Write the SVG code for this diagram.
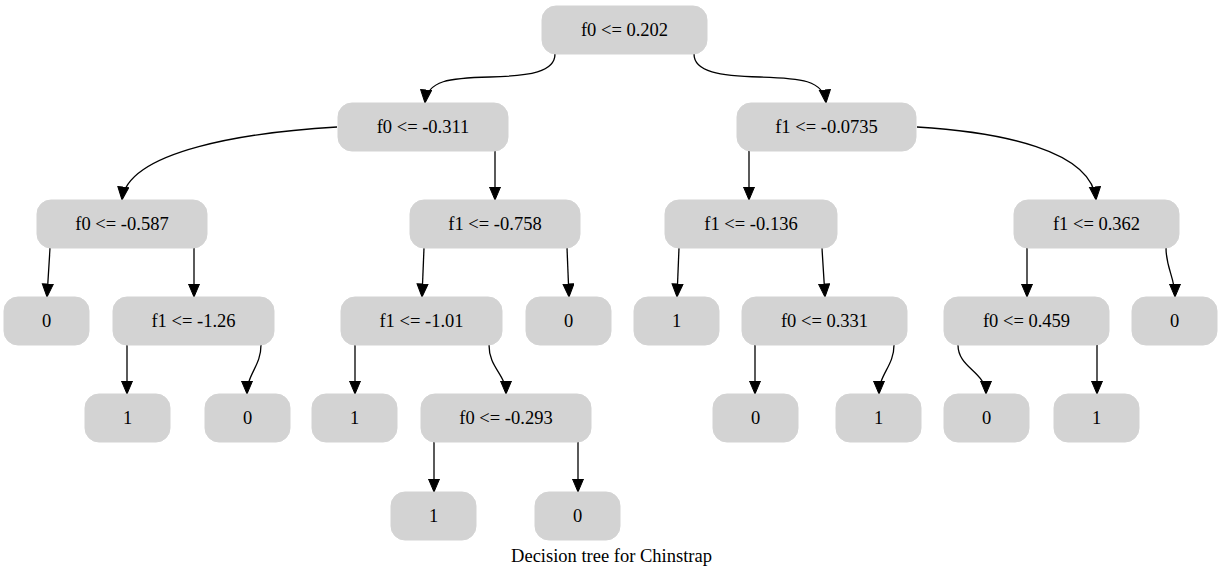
<svg xmlns="http://www.w3.org/2000/svg" width="1223" height="577" viewBox="0 0 1223 577">
<defs>
<style>
.n rect{fill:#d3d3d3;stroke:#d3d3d3;stroke-width:1}
.n text{font-size:18.5px;text-anchor:middle;fill:#000}
.e path{fill:none;stroke:#000;stroke-width:1.3;marker-end:url(#ah)}
.t{font-size:18.5px;text-anchor:middle;fill:#000}
</style>
<marker id="ah" markerUnits="userSpaceOnUse" markerWidth="16" markerHeight="14" refX="13.5" refY="6" orient="auto" viewBox="0 0 16 14">
<polygon points="0.5,0.5 13.5,6 0.5,11.5" fill="#000" stroke="#000" stroke-width="1"/>
</marker>
</defs>
<rect width="1223" height="577" fill="#fff"/>
<g class="e" id="edges">
<path d="M555,54 C555,72 530,76 490,77 C450,78 427,80 425,103"/>
<path d="M694,54 C694,72 720,76 760,77 C800,78 824,80 826,103"/>
<path d="M337,127 C250,132 127,150 122,200"/>
<path d="M495,151 L495,200"/>
<path d="M749,151 L749,200"/>
<path d="M917,127 C1000,132 1092,150 1096,200"/>
<path d="M50,248 L47,297"/>
<path d="M194,248 L194,297"/>
<path d="M424,248 L422,297"/>
<path d="M567,248 L569,297"/>
<path d="M679,248 L677,297"/>
<path d="M822,248 L825,297"/>
<path d="M1027,248 L1027,297"/>
<path d="M1166,248 C1166,268 1175,278 1175,297"/>
<path d="M127,345 L127,394"/>
<path d="M261,345 C261,366 247,374 247,394"/>
<path d="M355,345 L355,394"/>
<path d="M489,345 C489,368 506,374 506,394"/>
<path d="M755,345 L755,394"/>
<path d="M894,345 C894,366 879,374 879,394"/>
<path d="M958,345 C958,368 986,372 986,394"/>
<path d="M1097,345 L1097,394"/>
<path d="M434,442 L434,492"/>
<path d="M578,442 L578,492"/>
</g>
<g font-family="'Liberation Serif', 'Times New Roman', Times, serif">
<g class="n" id="n0"><rect x="542" y="6" width="165" height="48" rx="14"/><text x="624.5" y="36">f0 &lt;= 0.202</text></g>
<g class="n" id="n1"><rect x="338" y="103" width="170" height="48" rx="14"/><text x="423" y="133">f0 &lt;= -0.311</text></g>
<g class="n" id="n2"><rect x="737" y="103" width="179" height="48" rx="14"/><text x="826.5" y="133">f1 &lt;= -0.0735</text></g>
<g class="n" id="n3"><rect x="37" y="200" width="170" height="48" rx="14"/><text x="122" y="230">f0 &lt;= -0.587</text></g>
<g class="n" id="n4"><rect x="410" y="200" width="170" height="48" rx="14"/><text x="495" y="230">f1 &lt;= -0.758</text></g>
<g class="n" id="n5"><rect x="665" y="200" width="172" height="48" rx="14"/><text x="751" y="230">f1 &lt;= -0.136</text></g>
<g class="n" id="n6"><rect x="1014" y="200" width="165" height="48" rx="14"/><text x="1096.5" y="230">f1 &lt;= 0.362</text></g>
<g class="n" id="n7"><rect x="4" y="297" width="85" height="48" rx="14"/><text x="46.5" y="327">0</text></g>
<g class="n" id="n8"><rect x="113" y="297" width="161" height="48" rx="14"/><text x="193.5" y="327">f1 &lt;= -1.26</text></g>
<g class="n" id="n9"><rect x="341" y="297" width="161" height="48" rx="14"/><text x="421.5" y="327">f1 &lt;= -1.01</text></g>
<g class="n" id="n10"><rect x="526" y="297" width="85" height="48" rx="14"/><text x="568.5" y="327">0</text></g>
<g class="n" id="n11"><rect x="634" y="297" width="85" height="48" rx="14"/><text x="676.5" y="327">1</text></g>
<g class="n" id="n12"><rect x="742" y="297" width="165" height="48" rx="14"/><text x="824.5" y="327">f0 &lt;= 0.331</text></g>
<g class="n" id="n13"><rect x="944" y="297" width="165" height="48" rx="14"/><text x="1026.5" y="327">f0 &lt;= 0.459</text></g>
<g class="n" id="n14"><rect x="1132" y="297" width="85" height="48" rx="14"/><text x="1174.5" y="327">0</text></g>
<g class="n" id="n15"><rect x="85" y="394" width="85" height="48" rx="14"/><text x="127.5" y="424">1</text></g>
<g class="n" id="n16"><rect x="205" y="394" width="85" height="48" rx="14"/><text x="247.5" y="424">0</text></g>
<g class="n" id="n17"><rect x="312" y="394" width="85" height="48" rx="14"/><text x="354.5" y="424">1</text></g>
<g class="n" id="n18"><rect x="421" y="394" width="170" height="48" rx="14"/><text x="506" y="424">f0 &lt;= -0.293</text></g>
<g class="n" id="n19"><rect x="713" y="394" width="85" height="48" rx="14"/><text x="755.5" y="424">0</text></g>
<g class="n" id="n20"><rect x="836" y="394" width="85" height="48" rx="14"/><text x="878.5" y="424">1</text></g>
<g class="n" id="n21"><rect x="944" y="394" width="85" height="48" rx="14"/><text x="986.5" y="424">0</text></g>
<g class="n" id="n22"><rect x="1054" y="394" width="85" height="48" rx="14"/><text x="1096.5" y="424">1</text></g>
<g class="n" id="n23"><rect x="391" y="492" width="85" height="48" rx="14"/><text x="433.5" y="522">1</text></g>
<g class="n" id="n24"><rect x="535" y="492" width="85" height="48" rx="14"/><text x="577.5" y="522">0</text></g>
<text class="t" x="611.5" y="562">Decision tree for Chinstrap</text>
</g>
</svg>
